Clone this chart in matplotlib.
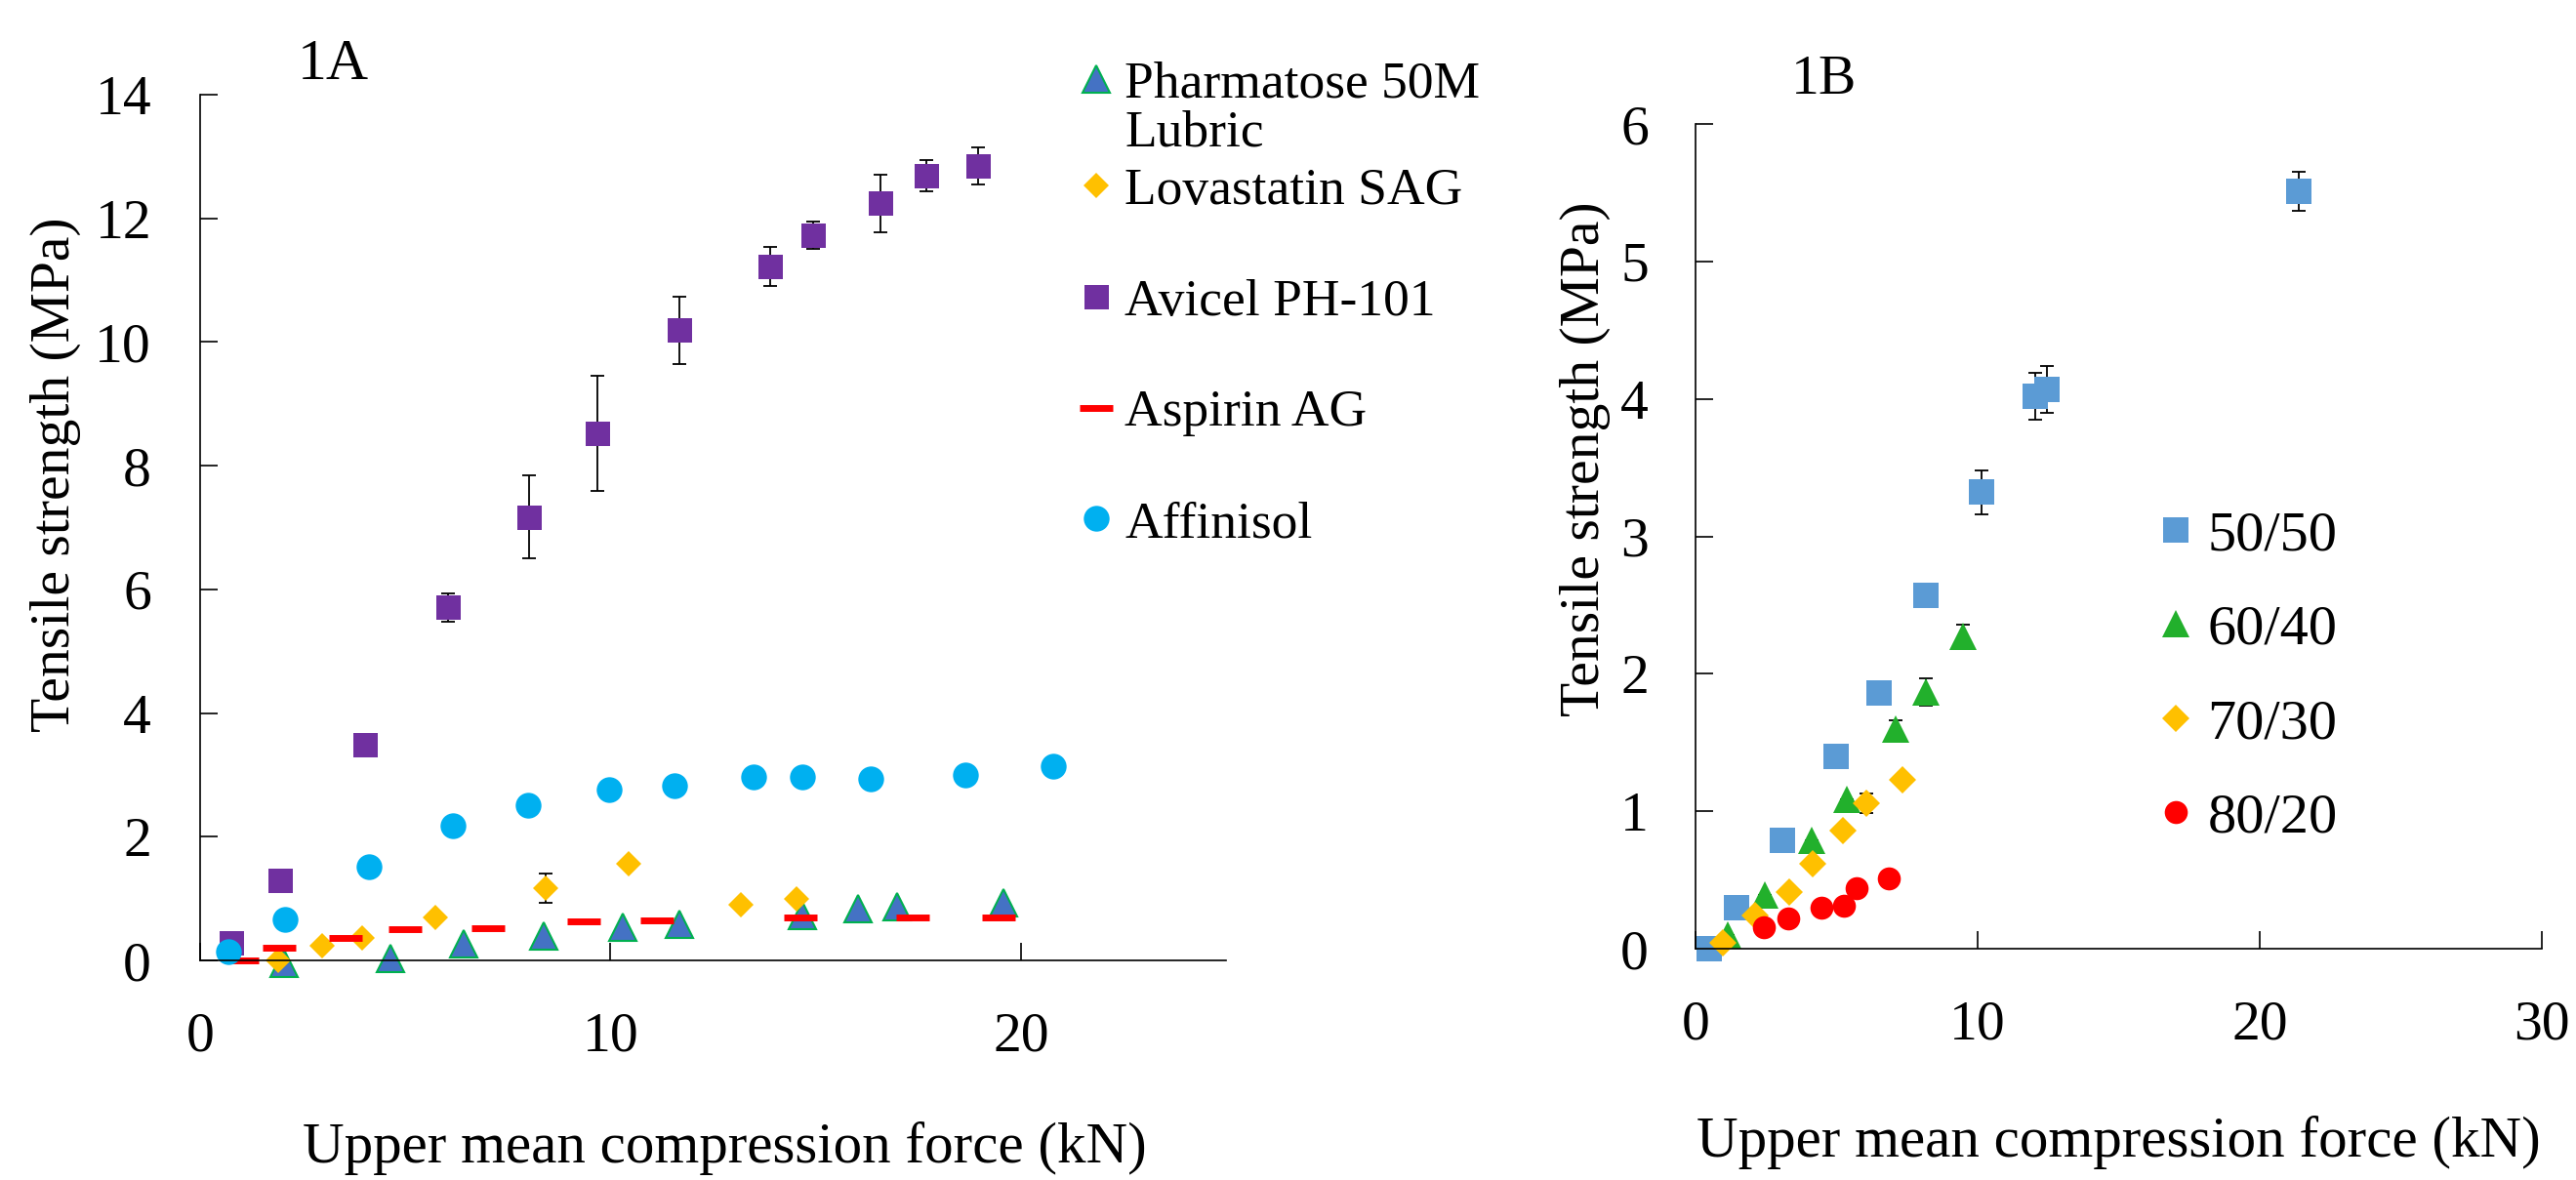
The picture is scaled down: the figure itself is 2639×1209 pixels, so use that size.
import matplotlib.pyplot as plt

plt.rcParams['font.family'] = ['Liberation Serif', 'DejaVu Serif']

# ---- 1A data ----
pharm_x = [2.05, 4.64, 6.42, 8.37, 10.30, 11.68, 14.68, 16.03, 16.98, 19.58]
pharm_y = [-0.04, 0.03, 0.27, 0.40, 0.53, 0.59, 0.72, 0.84, 0.87, 0.93]

lova_x = [1.91, 2.98, 3.94, 5.74, 8.42, 10.43, 13.18, 14.52]
lova_y = [0.00, 0.24, 0.36, 0.69, 1.17, 1.57, 0.90, 0.99]
lova_err = [0.0, 0.0, 0.0, 0.0, 0.24, 0.06, 0.04, 0.02]

avicel_x = [0.75, 1.95, 4.02, 6.04, 8.01, 9.68, 11.68, 13.89, 14.93, 16.57, 17.69, 18.95]
avicel_y = [0.29, 1.30, 3.49, 5.71, 7.17, 8.52, 10.19, 11.22, 11.73, 12.24, 12.69, 12.85]
avicel_err = [0.0, 0.0, 0.0, 0.23, 0.67, 0.93, 0.54, 0.32, 0.22, 0.46, 0.25, 0.30]

aspirin_x = [1.01, 1.92, 3.55, 5.00, 7.01, 9.34, 11.13, 14.63, 17.36, 19.45]
aspirin_y = [0.00, 0.21, 0.37, 0.50, 0.52, 0.63, 0.64, 0.69, 0.69, 0.69]

affin_x = [0.69, 2.07, 4.12, 6.17, 7.99, 9.96, 11.56, 13.49, 14.67, 16.35, 18.64, 20.79]
affin_y = [0.15, 0.66, 1.52, 2.18, 2.51, 2.76, 2.82, 2.97, 2.96, 2.94, 3.00, 3.14]

# ---- 1B data ----
r50_x = [0.49, 1.46, 3.07, 5.00, 6.50, 8.16, 10.14, 12.06, 12.47, 21.37]
r50_y = [0.00, 0.30, 0.79, 1.40, 1.86, 2.57, 3.32, 4.02, 4.07, 5.51]
r50_err = [0.0, 0.0, 0.0, 0.0, 0.0, 0.05, 0.16, 0.17, 0.17, 0.14]

r60_x = [1.15, 2.45, 4.11, 5.35, 7.09, 8.16, 9.49]
r60_y = [0.10, 0.39, 0.79, 1.09, 1.60, 1.87, 2.27]
r60_err = [0.0, 0.0, 0.0, 0.0, 0.06, 0.10, 0.09]

r70_x = [0.98, 2.12, 3.33, 4.14, 5.23, 6.06, 7.33]
r70_y = [0.04, 0.24, 0.41, 0.62, 0.86, 1.06, 1.23]
r70_err = [0.0, 0.0, 0.0, 0.0, 0.0, 0.07, 0.0]

r80_x = [2.43, 3.29, 4.45, 5.26, 5.70, 6.86]
r80_y = [0.16, 0.22, 0.30, 0.31, 0.44, 0.51]

FS = 41.5      # ticks, y labels
FS_X = 42.5    # x labels

fig = plt.figure(figsize=(26.39, 12.09), dpi=100)
ax_a = fig.add_axes([0.0777, 0.1861, 0.3983, 0.7337])
ax_b = fig.add_axes([0.6582, 0.1960, 0.3285, 0.6989])

eb = dict(fmt='none', ecolor='black', elinewidth=1.3, capsize=5, capthick=1.3, zorder=1.5)

# panel A
h_pharm, = ax_a.plot(pharm_x, pharm_y, '^', ms=19.5, mfc='#4472C4', mec='#00B050', mew=1.5, ls='none')
ax_a.errorbar(lova_x, lova_y, yerr=lova_err, **eb)
h_lova, = ax_a.plot(lova_x, lova_y, 'D', ms=13.2, color='#FFC000', mew=0, ls='none')
ax_a.errorbar(avicel_x, avicel_y, yerr=avicel_err, **eb)
h_avi, = ax_a.plot(avicel_x, avicel_y, 's', ms=18, color='#7030A0', mew=0, ls='none')
h_asp, = ax_a.plot(aspirin_x, aspirin_y, '_', ms=24, color='#FF0000', mew=5, ls='none')
h_aff, = ax_a.plot(affin_x, affin_y, 'o', ms=19, color='#00B0F0', mew=0, ls='none')

ax_a.set_xlim(0, 25)
ax_a.set_ylim(0, 14)
ax_a.set_xticks([0, 10, 20])
ax_a.set_yticks(range(0, 15, 2))
ax_a.tick_params(axis='x', direction='in', length=13, width=1.2, pad=38, labelsize=FS)
ax_a.tick_params(axis='y', direction='in', length=13, width=1.2, pad=36, labelsize=FS)
ax_a.set_xlabel('Upper mean compression force (kN)', fontsize=FS_X)
ax_a.set_ylabel('Tensile strength (MPa)', fontsize=FS)
ax_a.xaxis.set_label_coords(0.511, -0.186)
ax_a.yaxis.set_label_coords(-0.116, 0.561)
ax_a.text(0.095, 1.018, '1A', transform=ax_a.transAxes, fontsize=43, va='baseline')

leg1 = ax_a.legend([h_pharm], ['Pharmatose 50M\nLubric'], loc='upper left',
                   bbox_to_anchor=(0.4153, 0.9487), bbox_transform=fig.transFigure,
                   frameon=False, fontsize=38.5, handlelength=1.0, handletextpad=0.05,
                   borderpad=0, borderaxespad=0)
leg1.get_texts()[0].set_linespacing(1.08)
for col in leg1._legend_handle_box.get_children():
    for item in col.get_children():
        item.align = 'top'
ax_a.add_artist(leg1)
ax_a.legend([h_lova, h_avi, h_asp, h_aff],
            ['Lovastatin SAG', 'Avicel PH-101', 'Aspirin AG', 'Affinisol'],
            loc='upper left', bbox_to_anchor=(0.4153, 0.858), bbox_transform=fig.transFigure,
            frameon=False, fontsize=38.5, handlelength=1.0, handletextpad=0.05,
            borderpad=0, borderaxespad=0, labelspacing=1.22)

# panel B
ax_b.errorbar(r50_x, r50_y, yerr=r50_err, **eb)
h50, = ax_b.plot(r50_x, r50_y, 's', ms=19.4, color='#5B9BD5', mew=0, ls='none')
ax_b.errorbar(r60_x, r60_y, yerr=r60_err, **eb)
h60, = ax_b.plot(r60_x, r60_y, '^', ms=19.5, color='#22B02C', mew=0, ls='none')
ax_b.errorbar(r70_x, r70_y, yerr=r70_err, **eb)
h70, = ax_b.plot(r70_x, r70_y, 'D', ms=14.6, color='#FFC000', mew=0, ls='none')
h80, = ax_b.plot(r80_x, r80_y, 'o', ms=17, color='#FF0000', mew=0, ls='none')

ax_b.set_xlim(0, 30)
ax_b.set_ylim(0, 6)
ax_b.set_xticks([0, 10, 20, 30])
ax_b.set_yticks(range(0, 7))
ax_b.tick_params(axis='x', direction='in', length=13, width=1.2, pad=38, labelsize=FS)
ax_b.tick_params(axis='y', direction='in', length=13, width=1.2, pad=34.6, labelsize=FS)
ax_b.set_xlabel('Upper mean compression force (kN)', fontsize=FS_X)
ax_b.set_ylabel('Tensile strength (MPa)', fontsize=FS)
ax_b.xaxis.set_label_coords(0.5, -0.202)
ax_b.yaxis.set_label_coords(-0.100, 0.594)
ax_b.text(0.113, 1.037, '1B', transform=ax_b.transAxes, fontsize=FS, va='baseline')
ax_b.legend([h50, h60, h70, h80], ['50/50', '60/40', '70/30', '80/20'],
            loc='upper left', bbox_to_anchor=(0.8337, 0.568), bbox_transform=fig.transFigure,
            frameon=False, fontsize=42, handlelength=1.0, handletextpad=0.05,
            borderpad=0, borderaxespad=0, labelspacing=0.75)

for ax in (ax_a, ax_b):
    ax.spines['top'].set_visible(False)
    ax.spines['right'].set_visible(False)
    for s in ('left', 'bottom'):
        ax.spines[s].set_linewidth(1.2)
    for lab in ax.get_xticklabels() + ax.get_yticklabels():
        lab.set_clip_on(False)
    for line in ax.lines:
        line.set_clip_on(False)

fig.savefig('out.png', dpi=100)
